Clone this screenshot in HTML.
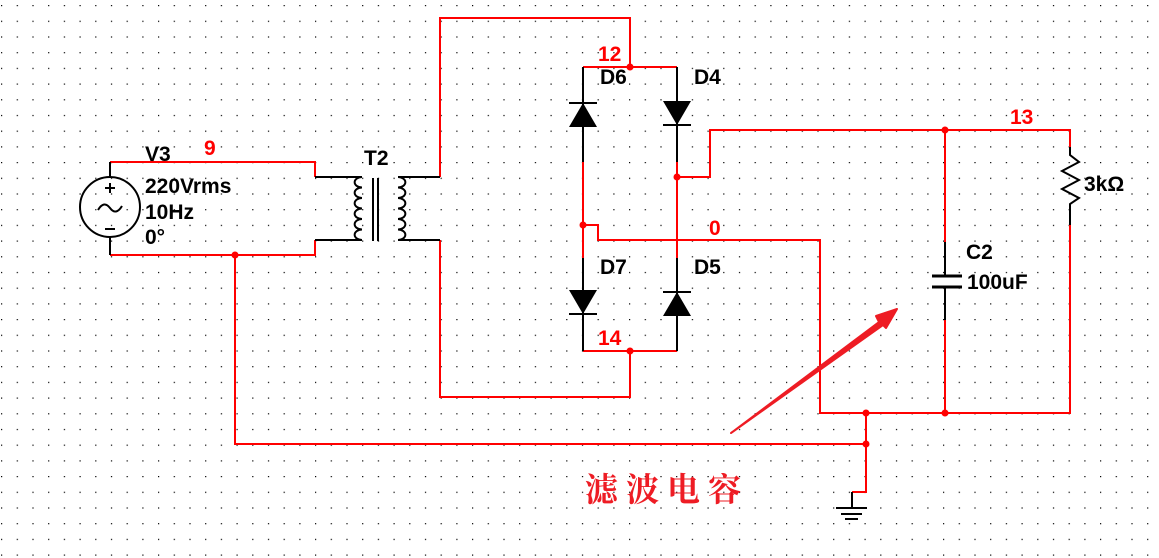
<!DOCTYPE html>
<html><head><meta charset="utf-8"><style>
body{margin:0;background:#fff}
svg{display:block}
text{font-family:"Liberation Sans",Arial,sans-serif;font-weight:bold;font-size:21px}
.r{fill:#f00}
</style></head><body>
<svg width="1159" height="558" viewBox="0 0 1159 558" xmlns="http://www.w3.org/2000/svg">
<defs><pattern id="g" x="1" y="5" width="15.7" height="15.7" patternUnits="userSpaceOnUse"><rect width="1.2" height="1.2" fill="#000"/></pattern></defs>
<rect width="1159" height="558" fill="url(#g)"/>
<g fill="none" stroke="#f00" stroke-width="2">
<polyline points="110,162 315,162 315,177"/>
<polyline points="110,255 315,255 315,240"/>
<polyline points="440,177 440,18 630,18 630,67"/>
<polyline points="440,240 440,397 630,397 630,351"/>
<polyline points="583,67 677,67"/>
<polyline points="583,351 677,351"/>
<line x1="583" y1="162" x2="583" y2="258"/>
<line x1="677" y1="162" x2="677" y2="258"/>
<polyline points="583,225 598,225 598,240 820,240 820,413 1070,413 1070,225"/>
<polyline points="677,177 710,177 710,130 1070,130 1070,147"/>
<line x1="945" y1="130" x2="945" y2="242"/>
<line x1="945" y1="320" x2="945" y2="413"/>
<polyline points="235,255 235,444 866,444"/>
<polyline points="866,413 866,492 852,492"/>
</g>
<g fill="#f00">
<circle cx="235" cy="255" r="3.5"/><circle cx="630" cy="67" r="3.5"/><circle cx="630" cy="351" r="3.5"/>
<circle cx="583" cy="225" r="3.5"/><circle cx="677" cy="177" r="3.5"/><circle cx="945" cy="130" r="3.5"/>
<circle cx="945" cy="413" r="3.5"/><circle cx="866" cy="413" r="3.5"/><circle cx="866" cy="444" r="3.5"/>
</g>
<g fill="none" stroke="#000" stroke-width="2">
<line x1="110" y1="162" x2="110" y2="177"/><line x1="110" y1="237" x2="110" y2="255"/>
<circle cx="110" cy="207" r="30"/>
<path d="M98,210 q6,-10 12,-2 q6,8 12,-2"/>
<line x1="105" y1="188" x2="115" y2="188"/><line x1="110" y1="183" x2="110" y2="193"/>
<line x1="105" y1="229" x2="115" y2="229"/>
<line x1="315" y1="177" x2="362" y2="177"/><line x1="315" y1="240" x2="362" y2="240"/>
<path d="M362,177 a7,5 0 0 0 0,10.5 a7,5 0 0 0 0,10.5 a7,5 0 0 0 0,10.5 a7,5 0 0 0 0,10.5 a7,5 0 0 0 0,10.5 a7,5 0 0 0 0,10.5"/>
<line x1="373" y1="178" x2="373" y2="241"/><line x1="378" y1="178" x2="378" y2="241"/>
<path d="M398,177 a7,5 0 0 0 0,10.5 a7,5 0 0 0 0,10.5 a7,5 0 0 0 0,10.5 a7,5 0 0 0 0,10.5 a7,5 0 0 0 0,10.5 a7,5 0 0 0 0,10.5" transform="translate(796,0) scale(-1,1)"/>
<line x1="398" y1="177" x2="440" y2="177"/><line x1="398" y1="240" x2="440" y2="240"/>
<line x1="583" y1="67" x2="583" y2="162"/><line x1="677" y1="67" x2="677" y2="162"/>
<line x1="583" y1="258" x2="583" y2="351"/><line x1="677" y1="258" x2="677" y2="351"/>
<line x1="569" y1="103" x2="597" y2="103"/><line x1="663" y1="125" x2="691" y2="125"/>
<line x1="569" y1="314" x2="597" y2="314"/><line x1="663" y1="292" x2="691" y2="292"/>
<polyline points="1070,147 1070,155 1079,162 1062,171 1079,180 1062,189 1079,198 1070,204 1070,225"/>
<line x1="945" y1="242" x2="945" y2="276"/><line x1="945" y1="287" x2="945" y2="320"/>
<line x1="932" y1="276" x2="962" y2="276" stroke-width="3"/><line x1="932" y1="287" x2="962" y2="287" stroke-width="3"/>
<line x1="852" y1="492" x2="852" y2="508"/>
<line x1="836" y1="508" x2="867" y2="508"/><line x1="841" y1="514" x2="862" y2="514"/><line x1="845" y1="519" x2="858" y2="519"/>
</g>
<g fill="#000">
<polygon points="583,103 569,127 597,127"/>
<polygon points="677,125 663,101 691,101"/>
<polygon points="583,314 569,290 597,290"/>
<polygon points="677,292 663,316 691,316"/>
</g>
<polygon points="731,433 879,322 876,316 897,309 886,328 883,325" fill="#ee1c24" stroke="#ee1c24" stroke-width="2" stroke-linejoin="round"/>
<text x="145" y="161">V3</text><text class="r" x="204" y="155">9</text>
<text x="364" y="165">T2</text>
<text x="145" y="193">220Vrms</text><text x="145" y="219">10Hz</text><text x="145" y="244">0°</text>
<text class="r" x="598" y="61">12</text><text x="600" y="84">D6</text><text x="694" y="84">D4</text>
<text class="r" x="709" y="235">0</text>
<text x="600" y="274">D7</text><text x="694" y="274">D5</text>
<text class="r" x="598" y="345">14</text>
<text class="r" x="1010" y="124">13</text>
<text x="966" y="259">C2</text><text x="967" y="289">100uF</text>
<text x="1084" y="191">3kΩ</text>
<text x="585" y="501" style="font-family:'Noto Serif CJK SC','Noto Sans CJK SC',serif;font-size:33px;font-weight:bold;letter-spacing:8px" fill="#ee1c24">滤波电容</text>
</svg>
</body></html>
